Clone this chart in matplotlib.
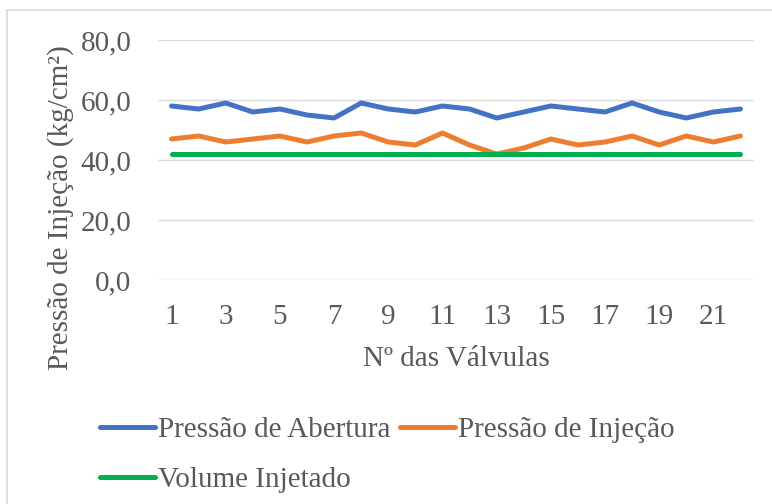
import matplotlib
matplotlib.use("Agg")
import matplotlib.pyplot as plt
from matplotlib.lines import Line2D

valvulas = list(range(1, 23))
abertura = [58, 57, 59, 56, 57, 55, 54, 59, 57, 56, 58, 57, 54, 56, 58, 57, 56, 59, 56, 54, 56, 57]
injecao = [47, 48, 46, 47, 48, 46, 48, 49, 46, 45, 49, 45, 42, 44, 47, 45, 46, 48, 45, 48, 46, 48]
volume = [42] * 22
series_names = ["Pressão de Abertura", "Pressão de Injeção", "Volume Injetado"]
colors = ["#4472C4", "#ED7D31", "#00B050"]
yticks = [0, 20, 40, 60, 80]
xticks = list(range(1, 23, 2))

plt.rcParams["font.family"] = ["Liberation Serif", "DejaVu Serif"]
txt = "#595959"
fs = 21

W, H = 772, 504
fig = plt.figure(figsize=(W / 100, H / 100), dpi=100)
ax = fig.add_axes([158 / W, 1 - 280 / H, (754 - 158) / W, 240 / H])

lw = 3.6
for vals, c, n in zip([abertura, injecao, volume], colors, series_names):
    ax.plot(valvulas, vals, color=c, lw=lw, solid_capstyle="round", solid_joinstyle="round", label=n, zorder=3)

ax.set_xlim(0.5, 22.5)
ax.set_ylim(0, 80)
ax.set_yticks(yticks)
ax.set_yticklabels([f"{v:.1f}".replace(".", ",") for v in yticks])
ax.set_xticks(xticks)
ax.set_xticklabels([str(v) for v in xticks])
ax.grid(axis="y", color="#D9D9D9", lw=1.0)
ax.set_axisbelow(True)
for s in ax.spines.values():
    s.set_visible(False)
ax.tick_params(axis="both", length=0, colors=txt, labelsize=fs)
ax.tick_params(axis="y", pad=19)
ax.tick_params(axis="x", pad=17)
ax.set_xlabel("Nº das Válvulas", fontsize=fs, color=txt, labelpad=12)

fig.text(61 / W, 1 - 208 / H, "Pressão de Injeção (kg/cm²)", rotation=90,
         ha="center", va="center", fontsize=fs, color=txt)

handles = [Line2D([], [], color=c, lw=lw, solid_capstyle="round") for c in colors]
order = [0, 2, 1]
leg = fig.legend([handles[i] for i in order], [series_names[i] for i in order],
                 ncol=2, loc="upper left", bbox_to_anchor=(100 / W, 1 - 417 / H),
                 frameon=False, fontsize=fs, handlelength=1.9, handletextpad=0.1,
                 columnspacing=0.3, labelspacing=0.8, borderpad=0, borderaxespad=0)
for t in leg.get_texts():
    t.set_color(txt)

# chart border
fig.add_artist(Line2D([7 / W, 7 / W], [0, 1 - 10 / H], color="#D9D9D9", lw=1.2, transform=fig.transFigure))
fig.add_artist(Line2D([7 / W, 1], [1 - 10 / H, 1 - 10 / H], color="#D9D9D9", lw=1.2, transform=fig.transFigure))

fig.savefig("out.png", dpi=100)
